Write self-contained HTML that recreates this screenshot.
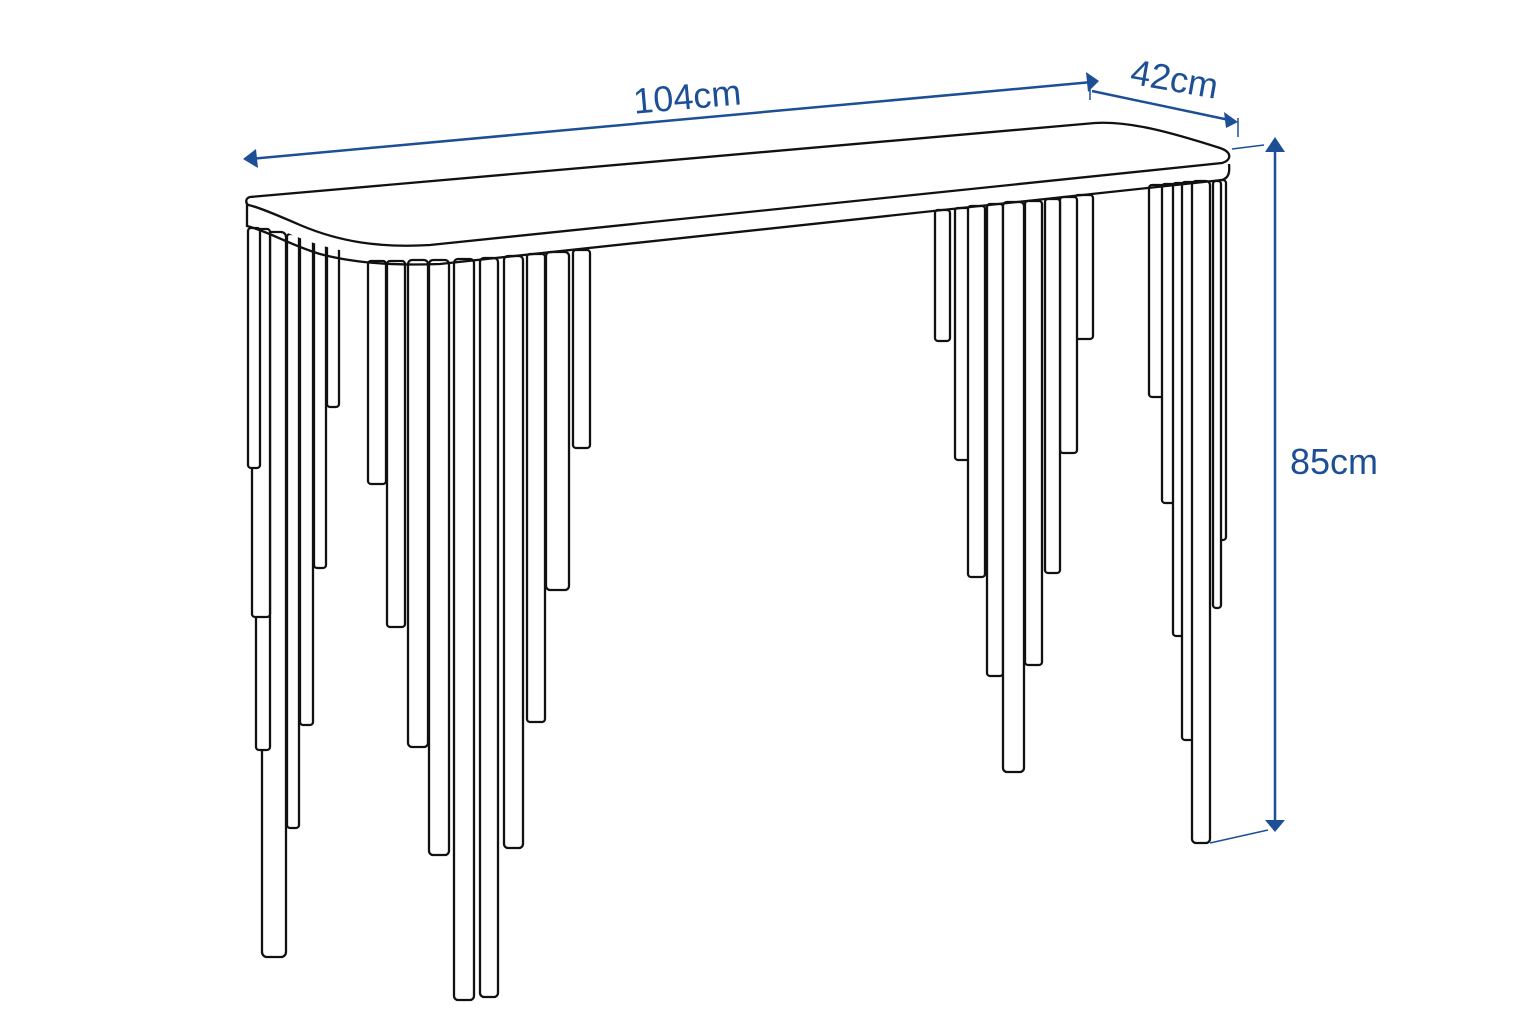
<!DOCTYPE html>
<html><head><meta charset="utf-8"><style>
html,body{margin:0;padding:0;background:#fff;}
svg{display:block}
text{font-family:"Liberation Sans",sans-serif;fill:#1d4f96;font-size:36px}
</style></head><body>
<svg width="1536" height="1024" viewBox="0 0 1536 1024" xmlns="http://www.w3.org/2000/svg">
<g fill="#fff" stroke="#111" stroke-width="2.3">
<rect x="327" y="240" width="12" height="167" rx="3"/>
<rect x="314" y="238" width="12" height="330" rx="3"/>
<rect x="300" y="236" width="13" height="489" rx="3"/>
<rect x="287" y="234" width="12" height="594" rx="3"/>
<rect x="262" y="232" width="24" height="725" rx="5"/>
<rect x="256" y="230" width="14" height="520" rx="3"/>
<rect x="252" y="229" width="18" height="388" rx="3"/>
<rect x="248" y="228" width="12" height="240" rx="3"/>
<rect x="573" y="250" width="17" height="198" rx="3"/>
<rect x="546" y="252" width="23" height="338" rx="4"/>
<rect x="527" y="254" width="18" height="468" rx="3"/>
<rect x="504" y="256" width="19" height="592" rx="4"/>
<rect x="480" y="258" width="18" height="739" rx="4"/>
<rect x="454" y="259" width="20" height="741" rx="4"/>
<rect x="429" y="260" width="20" height="595" rx="4"/>
<rect x="408" y="260" width="20" height="487" rx="4"/>
<rect x="387" y="261" width="18" height="366" rx="3"/>
<rect x="368" y="261" width="18" height="223" rx="3"/>
<rect x="1075" y="195" width="18" height="144" rx="3"/>
<rect x="1060" y="197" width="17" height="256" rx="3"/>
<rect x="1045" y="199" width="15" height="374" rx="3"/>
<rect x="1025" y="201" width="17" height="464" rx="3"/>
<rect x="935" y="210" width="15" height="131" rx="3"/>
<rect x="955" y="208" width="20" height="252" rx="3"/>
<rect x="968" y="206" width="17" height="371" rx="3"/>
<rect x="987" y="204" width="16" height="472" rx="3"/>
<rect x="1003" y="202" width="21" height="570" rx="4"/>
<rect x="1218" y="180" width="8" height="360" rx="3"/>
<rect x="1213" y="181" width="8" height="427" rx="3"/>
<rect x="1149" y="185" width="17" height="212" rx="3"/>
<rect x="1162" y="184" width="18" height="319" rx="3"/>
<rect x="1173" y="183" width="17" height="453" rx="3"/>
<rect x="1182" y="182" width="18" height="558" rx="3"/>
<rect x="1192" y="181" width="18" height="662" rx="4"/>
<path d="M247,203 C247,215 260,222 300,238 C340,254 380,258 430,256 L1228,170 L1229,156 L1228,156 L430,244 C380,246 340,240 300,225 C270,212 250,206 247,203 Z" stroke-width="0"/>
<path d="M247,203 L247,226 C270,232 290,245 320,254 C350,262 390,266 440,264 L1222,180 C1228,178 1230,174 1229,164" fill="none"/>
<path d="M250,197 L1095,123 C1130,121 1170,132 1220,148 C1232,152 1232,160 1222,163 L430,245 C380,248 340,242 300,225 C270,212 255,206 248,205 C245,202 246,198 250,197 Z"/>
</g>
<g stroke="#1d4f96" stroke-width="2.5" fill="#1d4f96">
<line x1="250" y1="159" x2="1092" y2="82"/>
<polygon points="243,159 256,149 258,168" stroke="none"/>
<polygon points="1099,81 1086,72 1088,92" stroke="none"/>
<line x1="1090" y1="88" x2="1090" y2="100" stroke-width="1.5"/>
<line x1="1092" y1="91" x2="1234" y2="121"/>
<polygon points="1238,122 1224,112 1226,128" stroke="none"/>
<line x1="1238" y1="118" x2="1238" y2="137" stroke-width="1.5"/>
<line x1="1232" y1="149" x2="1264" y2="145" stroke-width="1.5"/>
<line x1="1275" y1="148" x2="1275" y2="825"/>
<polygon points="1275,137 1265,152 1285,152" stroke="none"/>
<polygon points="1275,832 1265,820 1285,820" stroke="none"/>
<line x1="1210" y1="843" x2="1268" y2="830" stroke-width="1.5"/>
</g>
<text x="633" y="109" transform="rotate(-5 688 95)">104cm</text>
<text x="1130" y="92" transform="rotate(10 1178 82)">42cm</text>
<text x="1290" y="474">85cm</text>
</svg>
</body></html>
